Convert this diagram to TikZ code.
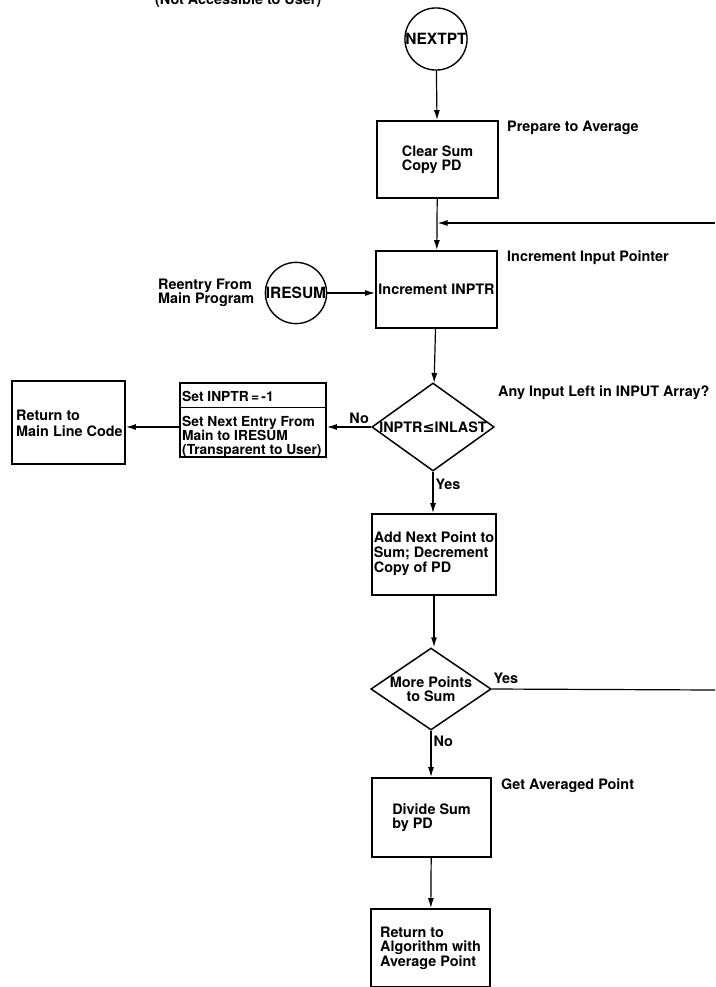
\documentclass[tikz,border=0pt]{standalone}
\usepackage{fontspec}
\setmainfont{TeX Gyre Heros}
\newfontfamily\symfont{DejaVu Sans}
\usetikzlibrary{arrows.meta,shapes.geometric}
\begin{document}
\begin{tikzpicture}[x=1pt,y=-1pt,
  every node/.style={font=\bfseries\fontsize{14.4}{14.5}\selectfont},
  box/.style={draw,line width=1.8pt,minimum width=121pt,minimum height=77pt,inner sep=2pt,align=left},
  circ/.style={draw,circle,line width=1.4pt,inner sep=0pt,minimum size=58pt,font=\bfseries\fontsize{15.5}{16}\selectfont},
  dia/.style={draw,diamond,line width=1.5pt,inner sep=0pt,align=center},
  lbl/.style={inner sep=0pt,align=left},
  conn/.style={line width=1.2pt},
  arr/.style={conn,-{Latex[length=10pt,width=6pt]}}]
\useasboundingbox (0,0) rectangle (715,987);

\node[lbl,anchor=base west] (title) at (155,5) {(Not Accessible to User)};

\node[circ] (nextpt) at (436,39) {NEXTPT};
\node[box] (clear) at (437.5,159.5) {Clear Sum\\Copy PD};
\node[lbl,anchor=west] (prep) at (507,128) {Prepare to Average};

\node[box,inner sep=1pt] (incr) at (436.5,289.5) {\raisebox{-4pt}{Increment INPTR}};
\node[lbl,anchor=west] (incrlbl) at (507,258) {Increment Input Pointer};

\node[circ,minimum size=61pt] (iresum) at (296,293) {IRESUM};
\node[lbl,anchor=west] (reentry) at (158,293) {Reentry From\\Main Program};

\node[dia,minimum width=118pt,minimum height=85pt,aspect=1.39] (d1) at (433,427) {INPTR{\symfont\bfseries ≤}INLAST};
\node[lbl,anchor=west] (anyinput) at (498,393) {Any Input Left in INPUT Array?};

\node[draw,line width=1.8pt,minimum width=146pt,minimum height=74pt] (setb) at (253,420) {};
\draw[line width=1pt] (setb.west |- 0,407) -- (setb.east |- 0,407);
\node[lbl,anchor=west,font=\bfseries\fontsize{13.8}{14.2}\selectfont] (settxt) at (182,396) {Set INPTR\,=\,-1};
\node[lbl,anchor=west,font=\bfseries\fontsize{13.8}{14.2}\selectfont] (settxt2) at (182,437) {Set Next Entry From\\Main to IRESUM\\(Transparent to User)};

\node[draw,line width=1.8pt,minimum width=113pt,minimum height=83pt] (ret) at (68.5,422.5) {};
\node[lbl,anchor=west,font=\bfseries\fontsize{14.4}{16.5}\selectfont] (rettxt) at (16,423.5) {Return to\\Main Line Code};

\node[box,minimum width=122pt,minimum height=81pt] (add) at (434,554.5) {\raisebox{-2.5pt}{\begin{tabular}{@{}l@{}}Add Next Point to\\Sum; Decrement\\Copy of PD\end{tabular}}};

\node[dia,minimum width=118pt,minimum height=82pt,aspect=1.5] (d2) at (431,689) {More Points\\to Sum};

\node[box,minimum width=119pt,minimum height=79pt] (div) at (431.5,817.5) {Divide Sum\\by PD};
\node[lbl,anchor=west] (getavg) at (501,786) {Get Averaged Point};

\node[box,minimum width=119pt,minimum height=78pt] (retalg) at (430.5,948) {Return to\\Algorithm with\\Average Point};

\coordinate (loopR) at (715,223);
\coordinate (yesR) at (715,690);

\draw[arr] (nextpt) -- (clear);
\draw[arr] (clear) -- (incr);
\draw[arr] (loopR) -- (loopR -| clear.south);
\draw[arr] (iresum.east) -- (iresum.east -| incr.west);
\draw[arr] (incr) -- (d1);
\draw[arr] (d1.west) -- node[above=2pt,pos=0.27,inner sep=1pt] {No} (d1.west -| setb.east);
\draw[arr] (d1.west -| setb.west) -- (d1.west -| ret.east);
\draw[arr] (d1.south) -- node[right=1pt,pos=0.3,inner sep=1pt] {Yes} (add.north -| d1.south);
\draw[arr] (add.south) -- (add.south |- d2.north);
\draw[conn] (d2.east) -- node[anchor=south west,pos=0,yshift=4pt,inner sep=1pt] {Yes} (yesR);
\draw[arr] (d2.south) -- node[right=1pt,pos=0.22,inner sep=1pt] {No} (d2.south |- div.north);
\draw[arr] (div) -- (retalg);
\end{tikzpicture}
\end{document}
